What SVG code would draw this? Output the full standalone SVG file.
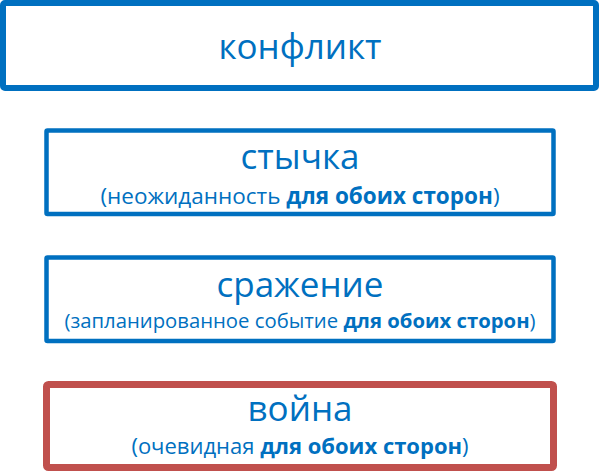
<svg xmlns="http://www.w3.org/2000/svg" width="600" height="472" viewBox="0 0 600 472">
<style>
.box{fill:#fff;stroke:#0070C0}
.red{stroke:#C0504D}
.t{font-family:"Open Sans","Noto Sans","DejaVu Sans",sans-serif;fill:#0070C0;text-anchor:middle}
.big{font-size:35px}
.b{font-weight:bold}
</style>
<rect width="600" height="472" fill="#fff"/>
<g id="node-konflikt">
<rect class="box" x="3" y="3" width="593" height="85" rx="2" stroke-width="6"/>
<text class="t big" x="300" y="59">конфликт</text>
</g>
<g id="node-stychka">
<rect class="box" x="46.5" y="130.5" width="507" height="83.5" rx="1" stroke-width="4.5"/>
<text class="t big" x="300" y="169">стычка</text>
<text class="t" x="300" y="204" font-size="22.5">(неожиданность <tspan class="b">для обоих сторон</tspan>)</text>
</g>
<g id="node-srazhenie">
<rect class="box" x="46.5" y="257.5" width="507" height="83.5" rx="1" stroke-width="4.5"/>
<text class="t big" x="300" y="297">сражение</text>
<text class="t" x="300" y="328" font-size="20.3">(запланированное событие <tspan class="b">для обоих сторон</tspan>)</text>
</g>
<g id="node-voyna">
<rect class="box red" x="46.5" y="384.5" width="507" height="83" rx="2" stroke-width="7"/>
<text class="t big" x="300" y="421">война</text>
<text class="t" x="300" y="454" font-size="22">(очевидная <tspan class="b">для обоих сторон</tspan>)</text>
</g>
<g id="connectors"></g>
</svg>
